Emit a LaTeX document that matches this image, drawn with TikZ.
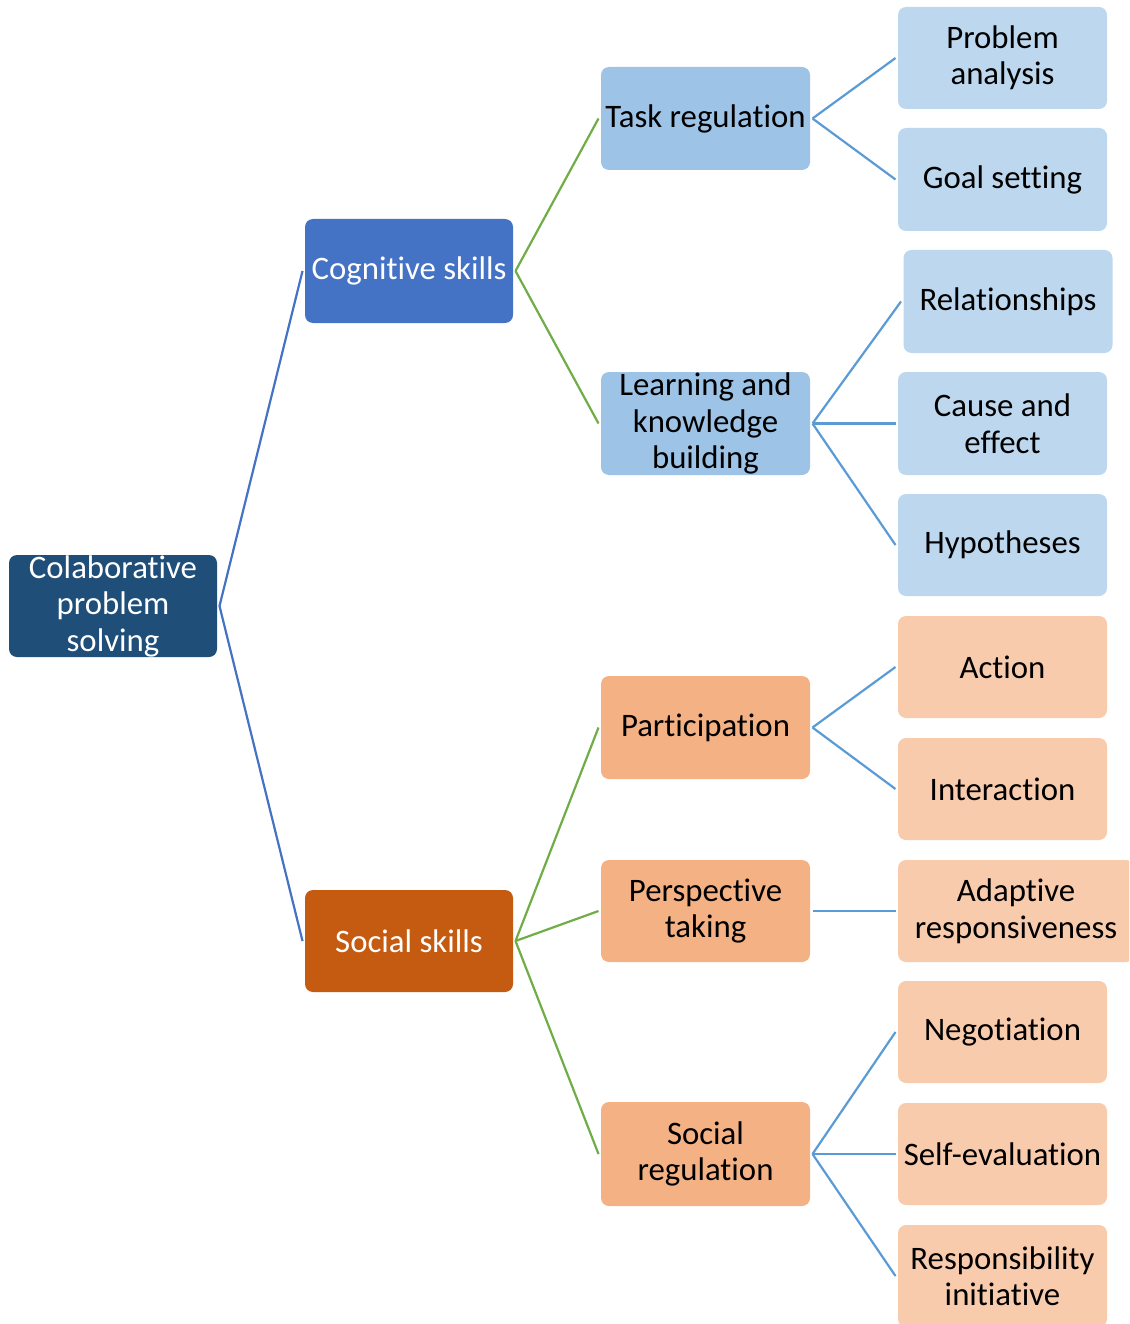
\documentclass[tikz,border=0pt]{standalone}
\usepackage{fontspec}
\setmainfont[Ligatures=NoCommon]{Carlito}
\definecolor{rootc}{HTML}{1F4E79}
\definecolor{cogc}{HTML}{4472C4}
\definecolor{socc}{HTML}{C55A11}
\definecolor{midblue}{HTML}{9DC3E6}
\definecolor{leafblue}{HTML}{BDD7EE}
\definecolor{midorange}{HTML}{F4B183}
\definecolor{leaforange}{HTML}{F8CBAD}
\definecolor{lineroot}{HTML}{4472C4}
\definecolor{linegreen}{HTML}{70AD47}
\definecolor{lineleaf}{HTML}{5B9BD5}
\tikzset{
  box/.style={rectangle, rounded corners=8pt, align=center, inner sep=0pt, outer sep=2.5pt,
    minimum width=209pt, minimum height=103pt, font=\fontsize{32.8}{36.5}\selectfont},
  rootbox/.style={box, fill=rootc, text=white},
  cogbox/.style={box, fill=cogc, text=white},
  socbox/.style={box, fill=socc, text=white},
  midb/.style={box, fill=midblue},
  leafb/.style={box, fill=leafblue},
  mido/.style={box, fill=midorange},
  leafo/.style={box, fill=leaforange},
  lroot/.style={draw=lineroot, line width=2.2pt},
  lgreen/.style={draw=linegreen, line width=2.2pt},
  lleaf/.style={draw=lineleaf, line width=2.2pt},
}
\begin{document}
\begin{tikzpicture}[x=1pt, y=-1pt]
\useasboundingbox (0,0) rectangle (1129,1324);
\clip (0,0) rectangle (1129,1324);
% root and level 1
\node[rootbox, minimum width=208pt, minimum height=102pt] (root) at (113,606) {Colaborative\\problem\\solving};
\node[cogbox, minimum width=208pt, minimum height=104pt] (cog) at (409,271) {Cognitive skills};
\node[socbox, minimum width=208pt, minimum height=102pt] (soc) at (409,941) {Social skills};
% level 2
\node[midb] (task) at (705.5,118.5) {Task regulation};
\node[midb] (learn) at (705.5,423.5) {Learning and\\knowledge\\building};
\node[mido] (part) at (705.5,727.5) {Participation};
\node[mido, minimum height=102pt] (persp) at (705.5,911) {Perspective\\taking};
\node[mido, minimum height=104pt] (sreg) at (705.5,1154) {Social\\regulation};
% leaves
\node[leafb, minimum height=102pt] (pa) at (1002.5,58) {Problem\\analysis};
\node[leafb] (gs) at (1002.5,179.5) {Goal setting};
\node[leafb] (rel) at (1008,301.5) {Relationships};
\node[leafb] (ce) at (1002.5,423.5) {Cause and\\effect};
\node[leafb, minimum height=102pt] (hyp) at (1002.5,545) {Hypotheses};
\node[leafo, minimum height=102pt] (act) at (1002.5,667) {Action};
\node[leafo, minimum height=102pt] (inter) at (1002.5,789) {Interaction};
\node[leafo, minimum width=236pt, minimum height=102pt] (adapt) at (1016,911) {Adaptive\\responsiveness};
\node[leafo, minimum height=102pt] (neg) at (1002.5,1032) {Negotiation};
\node[leafo, minimum height=102pt] (selfe) at (1002.5,1154) {Self-evaluation};
\node[leafo, minimum height=102pt] (resp) at (1002.5,1276) {Responsibility\\initiative};
% connectors
\draw[lroot] (root.east) -- (cog.west);
\draw[lroot] (root.east) -- (soc.west);
\draw[lgreen] (cog.east) -- (task.west);
\draw[lgreen] (cog.east) -- (learn.west);
\draw[lgreen] (soc.east) -- (part.west);
\draw[lgreen] (soc.east) -- (persp.west);
\draw[lgreen] (soc.east) -- (sreg.west);
\draw[lleaf] (task.east) -- (pa.west);
\draw[lleaf] (task.east) -- (gs.west);
\draw[lleaf] (learn.east) -- (rel.west);
\draw[lleaf] (learn.east) -- (ce.west);
\draw[lleaf] (learn.east) -- (hyp.west);
\draw[lleaf] (part.east) -- (act.west);
\draw[lleaf] (part.east) -- (inter.west);
\draw[lleaf] (persp.east) -- (adapt.west);
\draw[lleaf] (sreg.east) -- (neg.west);
\draw[lleaf] (sreg.east) -- (selfe.west);
\draw[lleaf] (sreg.east) -- (resp.west);
\end{tikzpicture}
\end{document}
